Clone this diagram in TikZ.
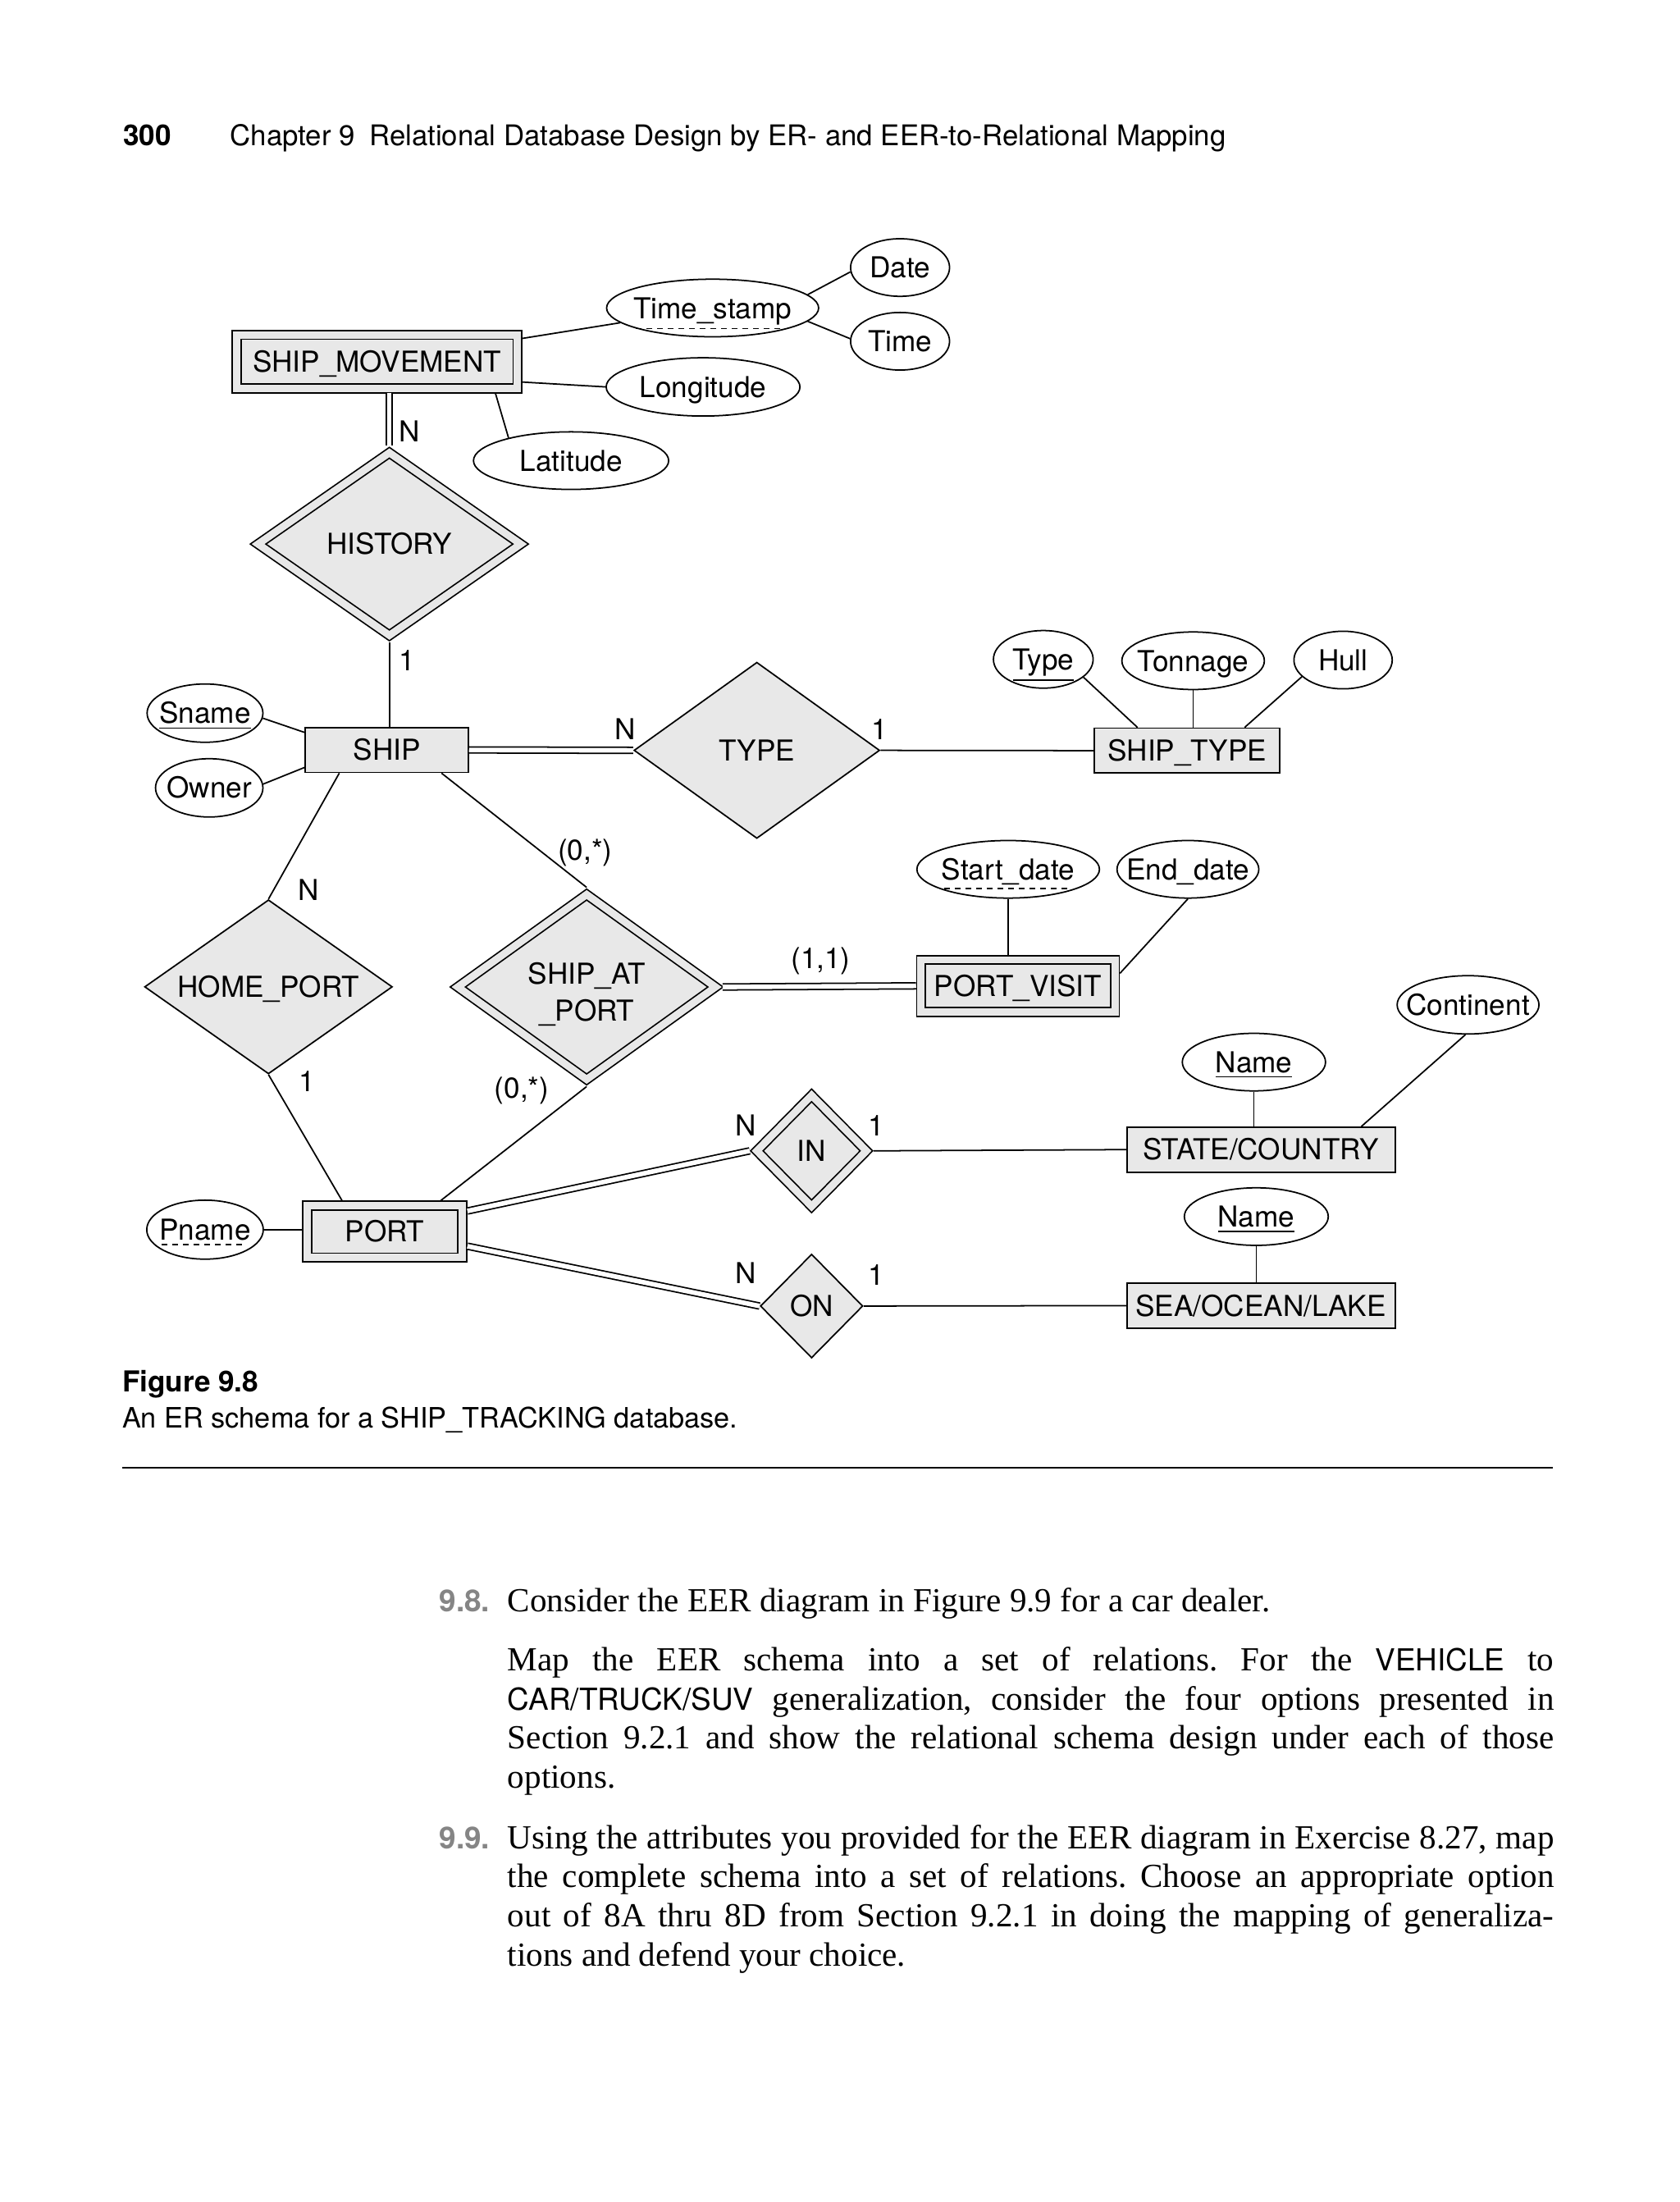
\documentclass[tikz,border=0pt]{standalone}
\usepackage{fontspec}
\setmainfont{Liberation Serif}
\setsansfont{TeX Gyre Heros}
\usetikzlibrary{shapes.geometric}
\definecolor{ergray}{gray}{0.91}
\definecolor{exgray}{gray}{0.52}
\newlength\bodyw \setlength\bodyw{12.757cm}
\newcommand\erl[1]{\makebox[0pt]{#1}}
\newcommand\keyul[1]{$\underline{\hbox{#1}}$}
\newcommand\pkeyul[1]{\setbox0\hbox{#1}\rlap{\raisebox{-\dimexpr\dp0+1.6pt\relax}{\hbox to\wd0{\leaders\hbox to 3.7pt{\hss\vrule width 2pt height 0.45pt\hss}\hfill}}}\box0}
\newcommand\sfword[1]{{\sffamily\fontsize{10.5}{13}\selectfont #1}}
\frenchspacing

\begin{document}
\begin{tikzpicture}[x=0.017124cm,y=-0.017124cm,line width=0.5pt,
  sz/.style 2 args={minimum width=#1*0.017124cm,minimum height=#2*0.017124cm},
  erfont/.style={font=\sffamily\fontsize{10}{12}\selectfont,text height=7.2pt,text depth=0pt},
  ent/.style={erfont,rectangle,draw,fill=ergray,inner sep=0pt},
  wkent/.style={ent,double=ergray,double distance=0.089cm,outer sep=0.0616cm},
  rel/.style={erfont,diamond,draw,fill=ergray,inner sep=0pt},
  wkrel/.style={rel,double=ergray,double distance=0.089cm,outer sep=0.0616cm},
  attr/.style={erfont,ellipse,draw,fill=white,inner sep=0pt},
  card/.style={erfont,inner sep=0pt},
  total/.style={double,double distance=0.0565cm},
  txt/.style={anchor=base west,inner sep=0pt},
  body/.style={txt,font=\fontsize{11.7}{13.7}\selectfont}]
  \path[use as bounding box,fill=white] (0,0) rectangle (1196,1568);

  % running head
  \node[txt,font=\sffamily\bfseries\fontsize{10}{12}\selectfont] (pgno) at (87.2,103.6) {300};
  \node[txt,font=\sffamily\fontsize{9.9}{12}\selectfont] (runhead) at (163.5,103.6)
    {Chapter 9\enskip Relational Database Design by ER- and EER-to-Relational Mapping};

  % entities
  \node[wkent,sz={200}{38}] (shipmv) at (268.5,257.5) {SHIP\_MOVEMENT};
  \node[ent,sz={116}{32}] (ship) at (275.5,534) {SHIP};
  \node[ent,sz={132}{32}] (shiptype) at (845.5,534.5) {SHIP\_TYPE};
  \node[wkent,sz={138}{37}] (portvisit) at (725,702) {PORT\_VISIT};
  \node[wkent,sz={110.5}{37}] (port) at (274,877) {PORT};
  \node[ent,sz={191}{32}] (statec) at (898,818.6) {STATE/COUNTRY};
  \node[ent,sz={191}{32}] (seaol) at (898,929.7) {SEA/OCEAN/LAKE};

  % relationships
  \node[wkrel,sz={190}{133}] (history) at (277.3,387.4) {\erl{HISTORY}};
  \node[rel,sz={175}{125.5}] (typerel) at (539,534.3) {\erl{TYPE}};
  \node[rel,sz={176.5}{124}] (homeport) at (191.2,702.7) {\erl{HOME\_PORT}};
  \node[wkrel,sz={186.5}{134.6},text depth=9pt] (shipat) at (417.8,702.8)
    {\erl{\def\arraystretch{1.05}\begin{tabular}[t]{@{}c@{}}SHIP\_AT\\\_PORT\end{tabular}}};
  \node[wkrel,sz={81}{82}] (inrel) at (578,819.5) {\erl{IN}};
  \node[rel,sz={73}{74}] (onrel) at (578,930) {\erl{ON}};

  % attributes
  \node[attr,sz={151}{41}] (tstamp) at (507.5,219.3) {\erl{\pkeyul{Time\_stamp}}};
  \node[attr,sz={70.5}{41}] (date) at (641,190.5) {\erl{Date}};
  \node[attr,sz={70.5}{41}] (timeat) at (641,243) {\erl{Time}};
  \node[attr,sz={138}{41.5}] (longit) at (500.7,275.5) {\erl{Longitude}};
  \node[attr,sz={139}{41}] (latit) at (406.7,328) {\erl{Latitude}};
  \node[attr,sz={82.5}{41.5}] (sname) at (146,507.8) {\erl{\keyul{Sname}}};
  \node[attr,sz={76.5}{41.5}] (owner) at (149,561) {\erl{Owner}};
  \node[attr,sz={71}{41}] (typeat) at (743,469.5) {\erl{\keyul{Type}}};
  \node[attr,sz={101.5}{41}] (tonnage) at (849.7,470.5) {\erl{Tonnage}};
  \node[attr,sz={70}{41}] (hull) at (956.5,470) {\erl{Hull}};
  \node[attr,sz={130}{41}] (startd) at (718,619) {\erl{\pkeyul{Start\_date}}};
  \node[attr,sz={101}{41}] (endd) at (846,619) {\erl{End\_date}};
  \node[attr,sz={102}{41}] (stname) at (893,756.3) {\erl{\keyul{Name}}};
  \node[attr,sz={101}{41.5}] (continent) at (1045.5,715.5) {\erl{Continent}};
  \node[attr,sz={102.5}{41}] (seaname) at (894.7,866.3) {\erl{\keyul{Name}}};
  \node[attr,sz={83}{42}] (pname) at (146,875.6) {\erl{\pkeyul{Pname}}};

  % connectors
  \draw (shipmv) -- (tstamp);
  \draw (tstamp.8) -- (date.185);
  \draw (tstamp.-8) -- (timeat.177);
  \draw (shipmv.-8) -- (longit.west);
  \draw (shipmv.-15) -- (latit.160);
  \draw[total] (history.north) -- (history.north |- shipmv.south);
  \draw (history.south) -- (history.south |- ship.north);
  \draw (sname.-5) -- (ship.168);
  \draw (owner.4) -- (ship.192);
  \draw[total] (ship.east) -- (typerel.west);
  \draw (typerel.east) -- (shiptype.west);
  \draw (typeat.-24) -- (shiptype.155);
  \draw (tonnage.south) -- (tonnage.south |- shiptype.north);
  \draw (hull.202) -- (shiptype.22);
  \draw (ship.206) -- (homeport.north);
  \draw (homeport.south) -- (port.144);
  \draw (ship.-23) -- (shipat.north);
  \draw (shipat.south) -- (port.29);
  \draw[total] (shipat.east) -- (portvisit.west);
  \draw (startd.south) -- (startd.south |- portvisit.north);
  \draw (endd.south) -- (portvisit.7);
  \draw[total] (port.14) -- (inrel.west);
  \draw[total] (port.-10) -- (onrel.west);
  \draw (inrel.east) -- (statec.west);
  \draw (onrel.east) -- (seaol.west);
  \draw (stname.south) -- (stname.south |- statec.north);
  \draw (continent.265) -- (statec.13);
  \draw (seaname.south) -- (seaname.south |- seaol.north);
  \draw (pname.east) -- (pname.east -| port.west);

  % cardinalities
  \node[card] (cmvn) at (291.5,307) {N};
  \node[card] (chist) at (290,470) {1};
  \node[card] (ctypen) at (445,519.5) {N};
  \node[card] (ctype1) at (626.5,519.5) {1};
  \node[card] (chomen) at (220,633.5) {N};
  \node[card] (chome1) at (218.5,770) {1};
  \node[card] (catship) at (416.8,605) {(0,*)};
  \node[card] (catport) at (371.6,774.6) {(0,*)};
  \node[card] (catvisit) at (584.5,682) {(1,1)};
  \node[card] (cinn) at (531,801.5) {N};
  \node[card] (cin1) at (624,801.5) {1};
  \node[card] (conn) at (531,906.5) {N};
  \node[card] (con1) at (624,908) {1};

  % caption
  \node[txt,font=\sffamily\bfseries\fontsize{10}{12}\selectfont] (fignum) at (86.6,990.8) {Figure 9.8};
  \node[txt,font=\sffamily\fontsize{9.75}{12}\selectfont] (figcap) at (86.6,1016.5)
    {An ER schema for a SHIP\_TRACKING database.};
  \draw[line width=0.6pt] (87,1045) -- (1106,1045);

  % exercises
  \node[txt,font=\sffamily\bfseries\fontsize{10.5}{12}\selectfont,text=exgray] (ex98) at (312.4,1147.5) {9.8.};
  \node[body] (l1) at (361.1,1147.5) {Consider the EER diagram in Figure 9.9 for a car dealer.};
  \node[body] (l2) at (361.1,1189.5)
    {\makebox[\bodyw][s]{Map the EER schema into a set of relations. For the \sfword{VEHICLE} to}};
  \node[body] (l3) at (361.1,1217.5)
    {\makebox[\bodyw][s]{\sfword{CAR/TRUCK/SUV} generalization, consider the four options presented in}};
  \node[body] (l4) at (361.1,1245.5)
    {\makebox[\bodyw][s]{Section 9.2.1 and show the relational schema design under each of those}};
  \node[body] (l5) at (361.1,1273.5) {options.};
  \node[txt,font=\sffamily\bfseries\fontsize{10.5}{12}\selectfont,text=exgray] (ex99) at (312.4,1316.5) {9.9.};
  \node[body] (l6) at (361.1,1316.5)
    {\makebox[\bodyw][s]{Using the attributes you provided for the EER diagram in Exercise 8.27, map}};
  \node[body] (l7) at (361.1,1344)
    {\makebox[\bodyw][s]{the complete schema into a set of relations. Choose an appropriate option}};
  \node[body] (l8) at (361.1,1372)
    {\makebox[\bodyw][s]{out of 8A thru 8D from Section 9.2.1 in doing the mapping of generaliza-}};
  \node[body] (l9) at (361.1,1400) {tions and defend your choice.};
\end{tikzpicture}
\end{document}
